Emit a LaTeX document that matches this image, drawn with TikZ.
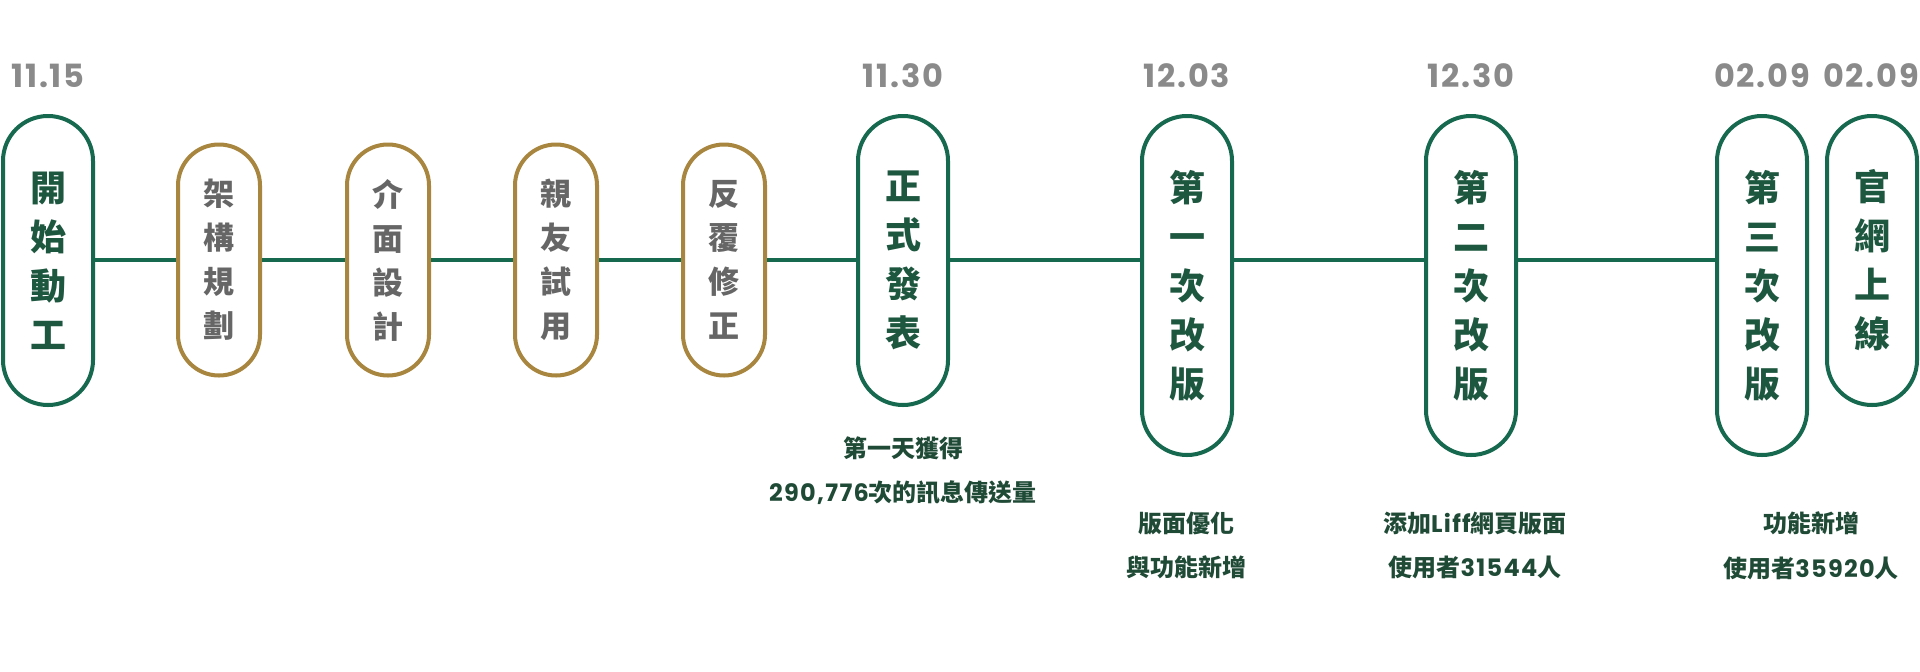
\documentclass[tikz,border=0pt]{standalone}
\usepackage{fontspec}
\setmainfont{Noto Sans CJK TC}
\newfontfamily\lat{Poppins}[LetterSpace=5.5]
\definecolor{gline}{HTML}{16684E}
\definecolor{gold}{HTML}{A8863F}
\definecolor{gtext}{HTML}{1D5740}
\definecolor{graytext}{HTML}{666666}
\definecolor{datecol}{HTML}{8A8A8A}
\definecolor{desccol}{HTML}{1F4A36}
\tikzset{
  gbox/.style={draw=gline, line width=4pt, fill=white, rounded corners=44.9pt,
    minimum width=90pt, minimum height=289pt, inner sep=0pt, align=center,
    text=gtext, font=\bfseries\fontsize{36}{49}\selectfont},
  tallbox/.style={gbox, minimum height=339pt},
  obox/.style={draw=gold, line width=4pt, fill=white, rounded corners=40.9pt,
    minimum width=82pt, minimum height=231pt, inner sep=0pt, align=center,
    text=graytext, font=\bfseries\fontsize{31}{44}\selectfont},
  datelabel/.style={text=datecol, inner sep=0pt, font=\lat\bfseries\fontsize{32}{32}\selectfont},
  desc/.style={text=desccol, inner sep=0pt, align=center, anchor=north,
    font=\bfseries\fontsize{24}{44.5}\selectfont},
  tline/.style={draw=gline, line width=4pt}
}
\begin{document}
\begin{tikzpicture}[x=1pt,y=-1pt]
\useasboundingbox (0,0) rectangle (1920,672);
\fill[white] (0,0) rectangle (1920,672);
% boxes
\node[gbox] (n1) at (48,260.5) {開\\始\\動\\工};
\node[obox] (n2) at (219,260) {架\\構\\規\\劃};
\node[obox] (n3) at (388,260) {介\\面\\設\\計};
\node[obox] (n4) at (556,260) {親\\友\\試\\用};
\node[obox] (n5) at (724,260) {反\\覆\\修\\正};
\node[gbox] (n6) at (903,260.5) {正\\式\\發\\表};
\node[tallbox] (n7) at (1187,285.5) {第\\一\\次\\改\\版};
\node[tallbox] (n8) at (1471,285.5) {第\\二\\次\\改\\版};
\node[tallbox] (n9) at (1762,285.5) {第\\三\\次\\改\\版};
\node[gbox] (n10) at (1872,260.5) {官\\網\\上\\線};
% connectors (all on the level of the timeline)
\draw[tline] (n1.east |- n2.east) -- (n2.west);
\draw[tline] (n2.east) -- (n3.west);
\draw[tline] (n3.east) -- (n4.west);
\draw[tline] (n4.east) -- (n5.west);
\draw[tline] (n5.east) -- (n6.west |- n5.east);
\draw[tline] (n6.east |- n5.east) -- (n7.west |- n5.east);
\draw[tline] (n7.east |- n5.east) -- (n8.west |- n5.east);
\draw[tline] (n8.east |- n5.east) -- (n9.west |- n5.east);
% dates
\node[datelabel] (d1) at (48,76) {11.15};
\node[datelabel] (d6) at (903,76) {11.30};
\node[datelabel] (d7) at (1187,76) {12.03};
\node[datelabel] (d8) at (1471,76) {12.30};
\node[datelabel] (d9) at (1762,76) {02.09};
\node[datelabel] (d10) at (1871,76) {02.09};
% descriptions
\node[desc] (t6) at (903,436.5) {第一天獲得\\{\lat 290,776}次的訊息傳送量};
\node[desc] (t7) at (1186,511.5) {版面優化\\與功能新增};
\node[desc] (t8) at (1475,511.5) {添加{\lat Liff}網頁版面\\使用者{\lat 31544}人};
\node[desc] (t9) at (1811,511.5) {功能新增\\使用者{\lat 35920}人};
\end{tikzpicture}
\end{document}
